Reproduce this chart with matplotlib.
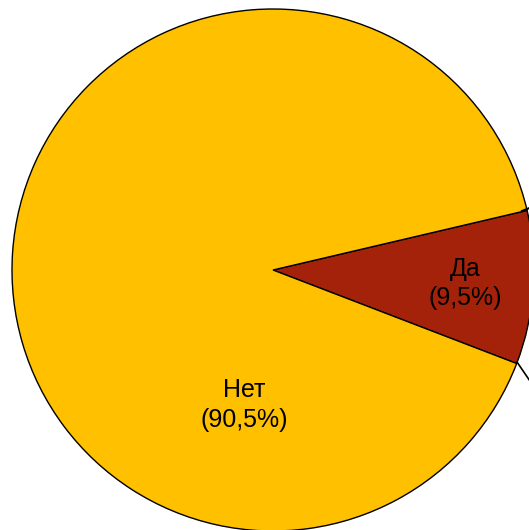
import numpy as np
import matplotlib
matplotlib.use("Agg")
import matplotlib.pyplot as plt

labels = ["Да", "Нет"]
values = [9.5, 90.5]
pct_text = ["9,5%", "90,5%"]
colors = ["#A5220A", "#FFC000"]

plt.rcParams["font.family"] = ["Liberation Sans", "DejaVu Sans"]

fig = plt.figure(figsize=(5.29, 5.30), dpi=100)
ax = fig.add_axes([0, 0, 1, 1])

cx, cy, r = 273, 260, 261
wedges, _ = ax.pie(values, colors=colors, startangle=-21, counterclock=True,
                   center=(cx, cy), radius=r, frame=True,
                   wedgeprops=dict(edgecolor="black", linewidth=1.0))
ax.set_xlim(0, 529)
ax.set_ylim(0, 530)
ax.set_aspect("equal")
ax.axis("off")

# label positions (fraction of radius, angle)
label_pos = [(0.74, -4), (0.53, -102)]
for name, pct, (f, ang) in zip(labels, pct_text, label_pos):
    a = np.deg2rad(ang)
    ax.text(cx + f * r * np.cos(a), cy + f * r * np.sin(a), f"{name}\n({pct})",
            ha="center", va="center", fontsize=18, linespacing=1.3)

# leader lines
ax.plot([517, 532], [168, 146], color="black", lw=1.2)
ax.plot([522, 532], [319, 323], color="black", lw=1.5)

fig.savefig("out.png", dpi=100)
